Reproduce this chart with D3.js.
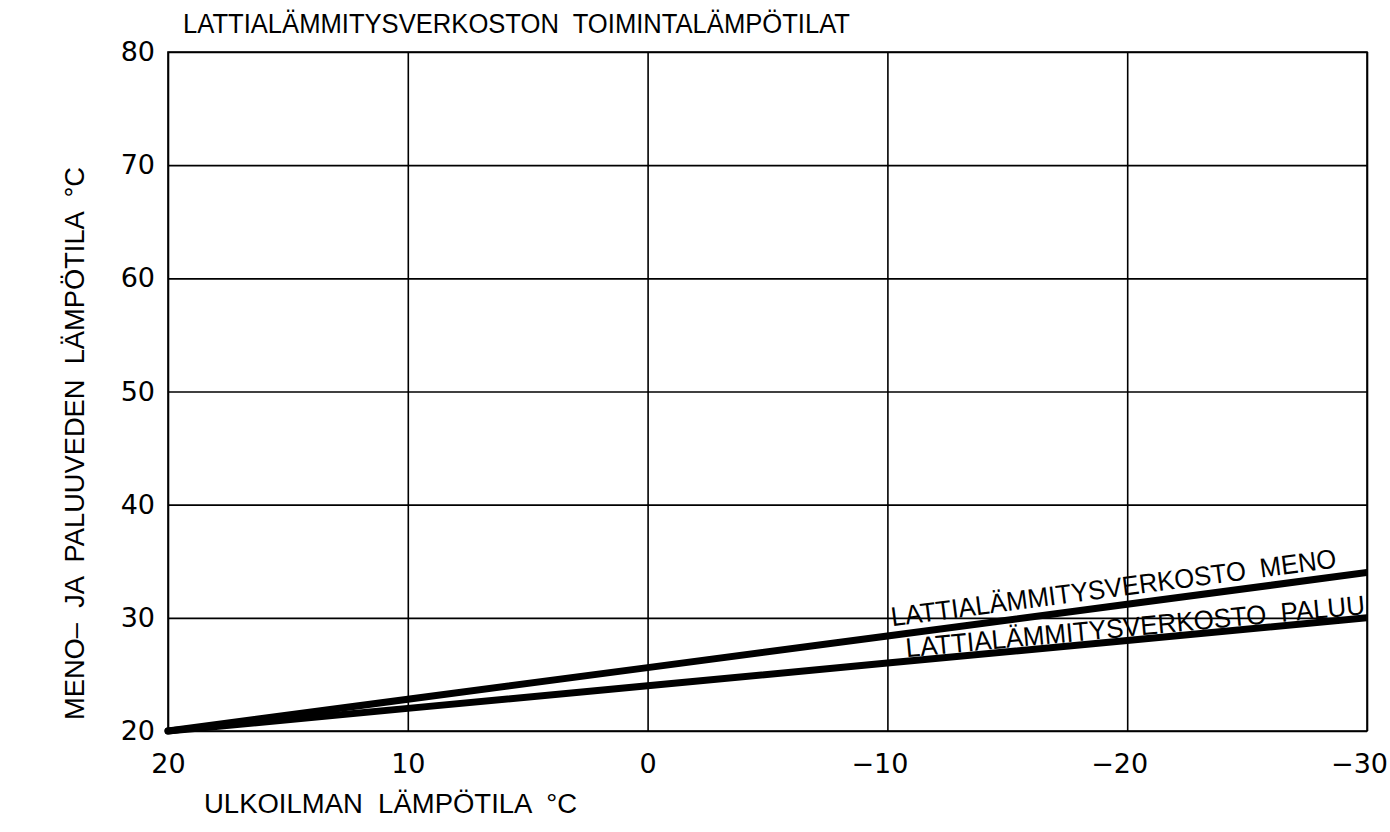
<!DOCTYPE html>
<html>
<head>
<meta charset="utf-8">
<script src="https://cdn.jsdelivr.net/npm/d3@7"></script>
<style>
  html, body { margin: 0; padding: 0; background: #fff; }
  svg { display: block; }
  text { fill: #000; white-space: pre; }
</style>
</head>
<body>
<svg id="chart" width="1390" height="832"></svg>
<script>
// ---- data ----
const outdoorTemps = [20, 10, 0, -10, -20, -30];
const menoValues   = [20, 22.8, 25.6, 28.4, 31.2, 34];
const paluuValues  = [20, 22, 24, 26, 28, 30];
const xTickLabels  = [20, 10, 0, -10, -20, -30];
const yTickLabels  = [20, 30, 40, 50, 60, 70, 80];
const titleText  = "LATTIALÄMMITYSVERKOSTON  TOIMINTALÄMPÖTILAT";
const xTitleText = "ULKOILMAN  LÄMPÖTILA  °C";
const yTitleText = "MENO–  JA  PALUUVEDEN  LÄMPÖTILA  °C";
const seriesNames = ["LATTIALÄMMITYSVERKOSTO  MENO", "LATTIALÄMMITYSVERKOSTO  PALUU"];

// ---- layout ----
const svg = d3.select("#chart");
const mLeft = 168, mRight = 1367, mTop = 52, mBottom = 731;
const x = d3.scaleLinear().domain([20, -30]).range([mLeft, mRight]);
const y = d3.scaleLinear().domain([20, 80]).range([mBottom, mTop]);
const fmt = d => d < 0 ? "−" + Math.abs(d) : String(d);
const tickFont = "'DejaVu Sans', sans-serif";
const textFont = "'Liberation Sans', 'DejaVu Sans', sans-serif";

// grid (vertical)
const gx = svg.append("g").attr("transform", `translate(0,${mBottom})`)
  .call(d3.axisBottom(x).tickValues(xTickLabels).tickSize(-(mBottom - mTop)).tickFormat(fmt).tickPadding(23));
gx.select(".domain").remove();
gx.selectAll(".tick line").attr("stroke", "#000").attr("stroke-width", 1.6);
gx.selectAll(".tick text").style("font-size", "27px").style("font-family", tickFont)
  .attr("dy", "0.71em").attr("dx", d => d < 0 ? -8 : 0).attr("fill", "#000");

// grid (horizontal)
const gy = svg.append("g").attr("transform", `translate(${mLeft},0)`)
  .call(d3.axisLeft(y).tickValues(yTickLabels).tickSize(-(mRight - mLeft)).tickFormat(fmt).tickPadding(13));
gy.select(".domain").remove();
gy.selectAll(".tick line").attr("stroke", "#000").attr("stroke-width", 1.6);
gy.selectAll(".tick text").style("font-size", "27px").style("font-family", tickFont).attr("fill", "#000");

// frame
svg.append("rect").attr("x", mLeft).attr("y", mTop).attr("width", mRight - mLeft).attr("height", mBottom - mTop)
  .attr("fill", "none").attr("stroke", "#000").attr("stroke-width", 1.6);

// clip for line right edge
svg.append("clipPath").attr("id", "clip").append("rect")
  .attr("x", 0).attr("y", 0).attr("width", mRight).attr("height", 832);

const line = d3.line().x(d => x(d[0])).y(d => y(d[1]));
const series = [
  outdoorTemps.map((t, i) => [t, menoValues[i]]),
  outdoorTemps.map((t, i) => [t, paluuValues[i]])
];
svg.append("g").attr("clip-path", "url(#clip)")
  .selectAll("path").data(series).join("path")
  .attr("d", line)
  .attr("fill", "none").attr("stroke", "#000").attr("stroke-width", 7)
  .attr("stroke-linecap", "round").attr("stroke-linejoin", "round");

// series labels along lines
const labelSpec = [
  { t: -10.2, off: 9, len: 449 },
  { t: -10.8, off: 4, len: 461 }
];
series.forEach((s, i) => {
  const p0 = s[0], p1 = s[s.length - 1];
  const slope = (p1[1] - p0[1]) / (p1[0] - p0[0]);
  const v = p0[1] + slope * (labelSpec[i].t - p0[0]);
  const px = x(labelSpec[i].t), py = y(v) - labelSpec[i].off;
  const ang = Math.atan2(y(p1[1]) - y(p0[1]), x(p1[0]) - x(p0[0])) * 180 / Math.PI;
  svg.append("text")
    .attr("transform", `translate(${px},${py}) rotate(${ang})`)
    .style("font-size", "27px").style("font-family", textFont)
    .attr("textLength", labelSpec[i].len).attr("lengthAdjust", "spacingAndGlyphs")
    .text(seriesNames[i]);
});

// titles
svg.append("text").attr("x", 183).attr("y", 33).style("font-size", "27px").style("font-family", textFont)
  .attr("textLength", 667).attr("lengthAdjust", "spacingAndGlyphs").text(titleText);
svg.append("text").attr("x", 204).attr("y", 813).style("font-size", "27px").style("font-family", textFont)
  .attr("textLength", 373).attr("lengthAdjust", "spacingAndGlyphs").text(xTitleText);
svg.append("text").attr("transform", "translate(84,720) rotate(-90)").style("font-size", "27px").style("font-family", textFont)
  .attr("textLength", 553).attr("lengthAdjust", "spacingAndGlyphs").text(yTitleText);
</script>
</body>
</html>
